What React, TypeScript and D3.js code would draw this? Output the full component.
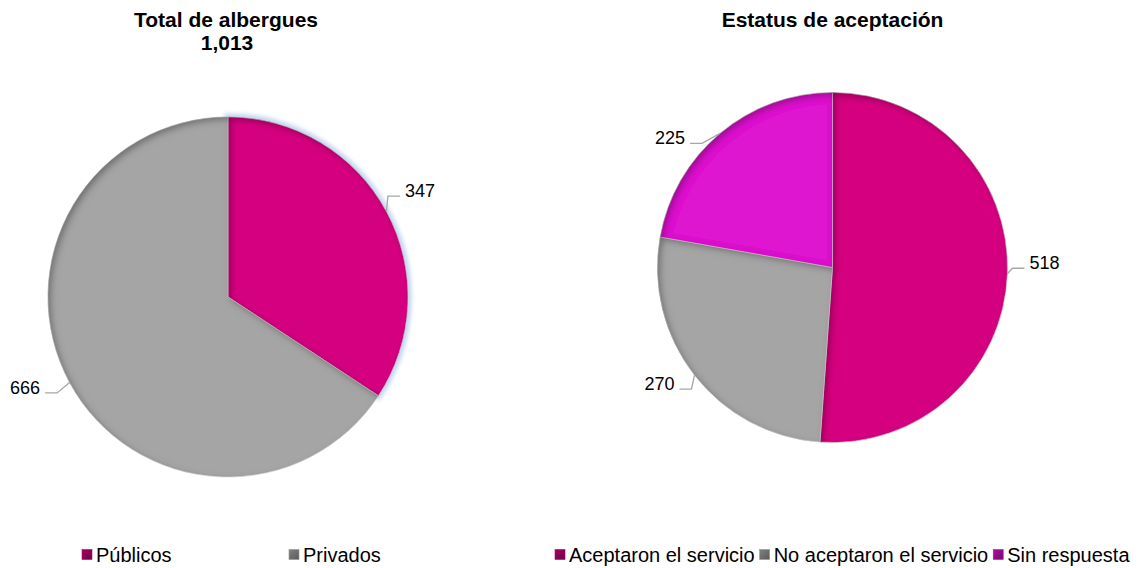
import React, { useEffect, useRef } from "react";
import * as d3 from "d3";

// Chart 1: total de albergues
const albergueCats = ["Públicos", "Privados"];
const albergueVals = [347, 666];
const albergueTotal = "1,013";

// Chart 2: estatus de aceptación
const estatusCats = ["Aceptaron el servicio", "No aceptaron el servicio", "Sin respuesta"];
const estatusVals = [518, 270, 225];

const sliceColors = ["#D5007F", "#A5A5A5", "#DE15CF"];
const swatchColors = ["#84004E", "#686868", "#8A0C80"];

// leader elbow offsets (px) from the point on the arc, per slice
const elbowLeft = [
  [1.5, -15.5],
  [-12.5, 10.5],
];
const elbowRight = [
  [5, -5.5],
  [-3, 14],
  [-18, 10],
];

const W = 1143;
const H = 568;
const FONT = "'Liberation Sans', Arial, sans-serif";

const App = () => {
  const ref = useRef<SVGSVGElement | null>(null);

  useEffect(() => {
    const svg = d3.select(ref.current);
    svg.selectAll("*").remove();

    const defs = svg.append("defs");

    // inner shadow on each slice
    const f = defs
      .append("filter")
      .attr("id", "inner")
      .attr("x", "-10%")
      .attr("y", "-10%")
      .attr("width", "120%")
      .attr("height", "120%");
    f.append("feComponentTransfer")
      .attr("in", "SourceAlpha")
      .attr("result", "inv")
      .append("feFuncA")
      .attr("type", "table")
      .attr("tableValues", "1 0");
    f.append("feGaussianBlur").attr("in", "inv").attr("stdDeviation", 3.5).attr("result", "blur");
    f.append("feOffset").attr("in", "blur").attr("dx", 3).attr("dy", 3).attr("result", "off");
    f.append("feFlood").attr("flood-color", "#000").attr("flood-opacity", 0.6).attr("result", "col");
    f.append("feComposite").attr("in", "col").attr("in2", "off").attr("operator", "in").attr("result", "sh");
    f.append("feComposite").attr("in", "sh").attr("in2", "SourceAlpha").attr("operator", "in").attr("result", "sh2");
    const m = f.append("feMerge");
    m.append("feMergeNode").attr("in", "SourceGraphic");
    m.append("feMergeNode").attr("in", "sh2");

    const glow = defs.append("filter").attr("id", "glow").attr("x", "-20%").attr("y", "-20%").attr("width", "140%").attr("height", "140%");
    glow.append("feGaussianBlur").attr("stdDeviation", 2);

    swatchColors.forEach((c, i) => {
      const g = defs
        .append("linearGradient")
        .attr("id", `sw${i}`)
        .attr("x1", 0)
        .attr("y1", 0)
        .attr("x2", 1)
        .attr("y2", 1);
      g.append("stop").attr("offset", 0).attr("stop-color", d3.color(c)!.brighter(0.6).formatHex());
      g.append("stop").attr("offset", 1).attr("stop-color", d3.color(c)!.darker(0.4).formatHex());
    });

    const pie = d3.pie<number>().sort(null).value((d) => d);

    const drawPie = (
      vals: number[],
      cx: number,
      cy: number,
      r: number,
      elbows: number[][],
      glowIdx: number | null
    ) => {
      const arcs = pie(vals);
      const arc = d3.arc<d3.PieArcDatum<number>>().innerRadius(0).outerRadius(r);
      const g = svg.append("g").attr("transform", `translate(${cx},${cy})`);

      if (glowIdx !== null) {
        g.append("path")
          .attr("d", arc(arcs[glowIdx]) as string)
          .attr("fill", "none")
          .attr("stroke", "#BFD6EE")
          .attr("stroke-width", 7)
          .attr("filter", "url(#glow)");
      }

      g.selectAll("path.slice")
        .data(arcs)
        .join("path")
        .attr("class", "slice")
        .attr("d", arc)
        .attr("fill", (d, i) => sliceColors[i])
        .attr("stroke", "#d8d8d8")
        .attr("stroke-width", 0.6)
        .attr("filter", "url(#inner)");

      arcs.forEach((d, i) => {
        const a = (d.startAngle + d.endAngle) / 2;
        const px = r * Math.sin(a);
        const py = -r * Math.cos(a);
        const ex = px + elbows[i][0];
        const ey = py + elbows[i][1];
        const dir = Math.sin(a) >= 0 ? 1 : -1;
        const hx = ex + dir * 12;
        g.append("path")
          .attr("d", `M${px},${py}L${ex},${ey}L${hx},${ey}`)
          .attr("fill", "none")
          .attr("stroke", "#A6A6A6")
          .attr("stroke-width", 1.3);
        g.append("text")
          .attr("x", hx + dir * 5)
          .attr("y", ey + 1)
          .attr("text-anchor", dir > 0 ? "start" : "end")
          .attr("font-family", FONT)
          .attr("font-size", 18)
          .attr("fill", "#000")
          .text(d3.format(",")(vals[i]));
      });
    };

    drawPie(albergueVals, 228, 297, 180, elbowLeft, 0);
    drawPie(estatusVals, 832.5, 267.5, 175, elbowRight, null);

    // titles
    const title = (x: number, y: number, t: string) =>
      svg
        .append("text")
        .attr("x", x)
        .attr("y", y)
        .attr("text-anchor", "middle")
        .attr("font-family", FONT)
        .attr("font-weight", "bold")
        .attr("font-size", 21)
        .text(t);
    title(226, 27, "Total de albergues");
    title(227, 50, albergueTotal);
    title(832.5, 27, "Estatus de aceptación");

    // legends
    const legendY = 555;
    const swatch = (x: number, i: number) => {
      svg
        .append("rect")
        .attr("x", x)
        .attr("y", legendY - 5.5)
        .attr("width", 10)
        .attr("height", 10)
        .attr("fill", `url(#sw${i})`)
        .attr("stroke", d3.color(swatchColors[i])!.brighter(1).formatHex())
        .attr("stroke-width", 0.6);
    };
    const legendText = (x: number, t: string) =>
      svg
        .append("text")
        .attr("x", x)
        .attr("y", legendY + 7)
        .attr("font-family", FONT)
        .attr("font-size", 20)
        .text(t);

    albergueCats.forEach((c, i) => {
      const x = 82 + i * 207;
      swatch(x, i);
      legendText(x + 14, c);
    });

    let x = 555;
    estatusCats.forEach((c, i) => {
      swatch(x, i);
      const t = legendText(x + 14, c);
      const w = (t.node() as SVGTextElement).getComputedTextLength();
      x = x + 14 + w + 5;
    });
  }, []);

  return (
    <div style={{ position: "absolute", left: 0, top: 0 }}>
      <svg ref={ref} width={W} height={H} style={{ display: "block", background: "#fff" }} />
    </div>
  );
};

export default App;
